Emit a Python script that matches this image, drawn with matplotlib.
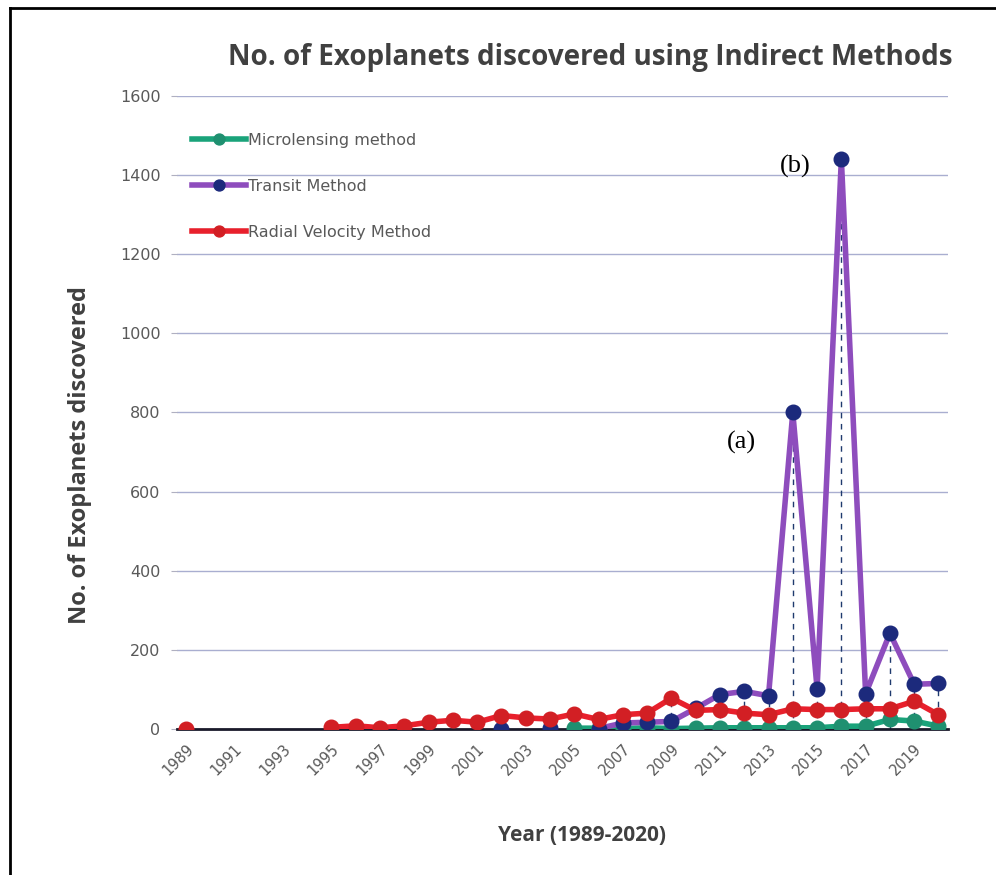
import matplotlib.pyplot as plt
import numpy as np
from matplotlib.lines import Line2D

nan = np.nan
years = list(range(1989, 2021))

# values (NaN = no entry that year)
microlensing = [nan, nan, nan, nan, nan, nan, nan, nan, nan, nan, nan, nan, nan, nan, nan, nan,
                2, 2, 1, 3, 1, 2, 3, 3, 3, 3, 3, 7, 7, 24, 20, 7]
transit = [nan, nan, nan, nan, nan, nan, nan, nan, nan, nan, nan, nan, nan, 1, nan, 3,
           nan, 1, 15, 17, 19, 52, 87, 95, 84, 800, 102, 1440, 89, 242, 113, 115]
radial = [1, nan, nan, nan, nan, nan, 4, 8, 3, 8, 17, 22, 17, 34, 28, 25,
          38, 24, 36, 40, 78, 47, 49, 40, 36, 51, 49, 49, 51, 51, 70, 36]

x = np.arange(len(years))

fig = plt.figure(figsize=(9.96, 8.75), dpi=100)
ax = fig.add_axes([0.178, 0.1669, 0.774, 0.7234])

# drop lines from the highest point of each year down to the axis
tops = np.nanmax(np.array([microlensing, transit, radial], dtype=float), axis=0)
has_transit = ~np.isnan(np.array(transit, dtype=float))
ax.vlines(x[has_transit], 0, tops[has_transit], colors='#1f3a6e', linestyles=(0, (4, 4)),
          linewidth=1, zorder=2)

ax.plot(x, microlensing, '-o', color='#1aa37a', lw=4, ms=10.5,
        mfc='#1f9070', mec='#1f9070', zorder=3, label='Microlensing method')
ax.plot(x, transit, '-o', color='#8e4dbd', lw=4, ms=10.5,
        mfc='#1c2a7c', mec='#1c2a7c', zorder=4, label='Transit Method')
ax.plot(x, radial, '-o', color='#e8202c', lw=4, ms=10.5,
        mfc='#d21f24', mec='#d21f24', zorder=5, label='Radial Velocity Method')

ax.set_ylim(0, 1600)
ax.set_xlim(-0.35, 31.4)
ax.set_yticks(range(0, 1601, 200))
ax.set_xticks(x[::2])
ax.set_xticklabels([str(y) for y in years[::2]], rotation=45, ha='right',
                   rotation_mode='anchor', fontsize=10.5, color='#595959')
ax.tick_params(axis='y', labelsize=11.5, labelcolor='#595959', length=4, color='#b0b0c0', pad=8)
ax.tick_params(axis='x', length=0, pad=9)
ax.grid(axis='y', color='#a9aed0', lw=1)
ax.set_axisbelow(True)
for s in ['left', 'right', 'top']:
    ax.spines[s].set_visible(False)
ax.spines['bottom'].set_color('#1a1a2a')
ax.spines['bottom'].set_linewidth(2)

ax.set_title('No. of Exoplanets discovered using Indirect Methods', fontsize=20,
             fontweight='bold', color='#404040', family='Open Sans', x=0.536, pad=22)
ax.set_ylabel('No. of Exoplanets discovered', fontsize=17, fontweight='bold',
              color='#404040', family='Open Sans')
ax.yaxis.set_label_coords(-0.11, 0.433)
ax.set_xlabel('Year (1989-2020)', fontsize=15, fontweight='bold',
              color='#404040', family='Open Sans')
ax.xaxis.set_label_coords(0.525, -0.151)

ax.text(22.9, 723, '(a)', fontsize=19, family='Liberation Serif', ha='center', va='center')
ax.text(25.1, 1423, '(b)', fontsize=19, family='Liberation Serif', ha='center', va='center')

leg = ax.legend(loc='upper left', bbox_to_anchor=(0.0, 0.965), frameon=False,
                fontsize=11.5, labelspacing=1.95, handlelength=3.4, handletextpad=0.1,
                markerscale=0.75)
for t in leg.get_texts():
    t.set_color('#595959')

# page border (left and top edges)
fig.add_artist(Line2D([0.01, 0.01], [0, 0.991], color='black', lw=2, transform=fig.transFigure))
fig.add_artist(Line2D([0.01, 1.0], [0.991, 0.991], color='black', lw=2, transform=fig.transFigure))

fig.savefig('out.png', dpi=100)
